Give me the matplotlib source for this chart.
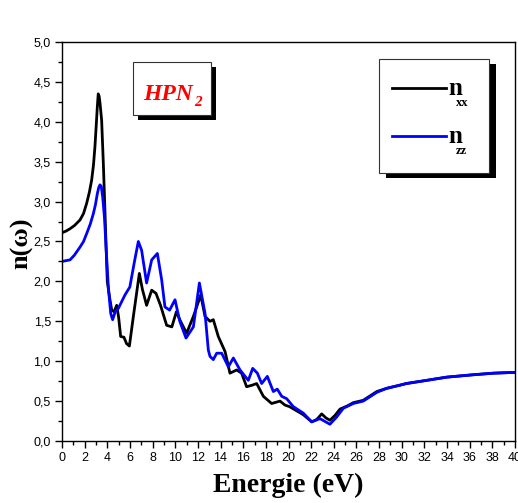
import matplotlib
matplotlib.use("Agg")
import matplotlib.pyplot as plt
from matplotlib.patches import Rectangle
from matplotlib.ticker import MultipleLocator, FuncFormatter

# ---- data ----
energy_xx = [0, 0.35, 0.71, 1.1, 1.59, 1.9, 2.18, 2.42, 2.62, 2.78, 2.91, 3.02, 3.12,
             3.2, 3.28, 3.36, 3.5, 3.65, 3.8, 3.9, 4.0, 4.2, 4.39,
             4.6, 4.83, 5.0, 5.18, 5.47, 5.7, 5.95, 6.3, 6.83, 7.1, 7.47, 7.92, 8.3,
             8.7, 9.24, 9.7, 10.1, 10.4, 11.0, 11.6, 12.25, 12.63, 13.07, 13.36, 13.8,
             14.4, 14.83, 15.42, 15.86, 16.3, 16.8, 17.19, 17.78, 18.51, 19.25, 19.69,
             20.1, 20.7, 21.3, 22.05, 22.5, 22.93, 23.3, 23.66, 24.1, 24.55, 25.2,
             25.72, 26.6, 27.8, 28.67, 29.85, 30.4, 32.2, 33.96, 36.3, 38.1, 40]
n_xx = [2.61, 2.63, 2.66, 2.70, 2.77, 2.85, 2.98, 3.12, 3.27, 3.46, 3.69, 3.95, 4.19,
        4.35, 4.32, 4.23, 4.02, 3.48, 2.85, 2.40, 2.00, 1.80,
        1.64, 1.62, 1.70, 1.55, 1.31, 1.30, 1.22, 1.19, 1.56, 2.10, 1.90, 1.70, 1.89,
        1.85, 1.70, 1.45, 1.43, 1.62, 1.52, 1.35, 1.56, 1.83, 1.56, 1.50, 1.52, 1.31,
        1.12, 0.85, 0.89, 0.85, 0.68, 0.70, 0.72, 0.56, 0.47, 0.50, 0.45, 0.43, 0.38,
        0.33, 0.24, 0.27, 0.34, 0.29, 0.26, 0.32, 0.40, 0.44, 0.48, 0.51, 0.62, 0.66,
        0.70, 0.72, 0.76, 0.80, 0.83, 0.85, 0.86]

energy_zz = [0, 0.35, 0.71, 1.1, 1.59, 1.9, 2.18, 2.5, 2.77, 2.95, 3.12, 3.25, 3.36,
             3.47, 3.59, 3.75, 3.89, 4.09, 4.3, 4.47,
             4.7, 4.97, 5.56, 5.99, 6.4, 6.74, 7.03, 7.47, 7.92, 8.42, 8.8, 9.09, 9.5,
             9.98, 10.4, 10.95, 11.6, 12.13, 12.63, 12.92, 13.07, 13.36, 13.66, 14.1,
             14.69, 15.13, 15.72, 16.45, 16.84, 17.25, 17.63, 18.13, 18.66, 19.01, 19.4,
             19.84, 20.43, 21.3, 22.05, 22.78, 23.66, 24.25, 24.84, 25.72, 26.6, 27.8,
             28.67, 29.85, 30.4, 32.2, 33.96, 36.3, 38.1, 40]
n_zz = [2.25, 2.26, 2.27, 2.33, 2.43, 2.50, 2.60, 2.72, 2.85, 2.96, 3.10, 3.18, 3.21,
        3.19, 3.06, 2.80, 2.43, 1.93, 1.60, 1.52,
        1.62, 1.66, 1.83, 1.93, 2.25, 2.50, 2.39, 1.98, 2.27, 2.35, 2.02, 1.68,
        1.64, 1.77, 1.50, 1.29, 1.43, 1.98, 1.60, 1.14, 1.06, 1.02, 1.10, 1.10, 0.93,
        1.04, 0.89, 0.76, 0.91, 0.85, 0.72, 0.81, 0.62, 0.65, 0.56, 0.53, 0.43, 0.35,
        0.24, 0.28, 0.21, 0.30, 0.41, 0.47, 0.50, 0.61, 0.66, 0.70, 0.72, 0.76, 0.80,
        0.83, 0.85, 0.86]

x_label = "Energie (eV)"
y_label = "n(ω)"
compound = "HPN"
compound_sub = "2"
series_names = [("n", "xx"), ("n", "zz")]
series_colors = ["black", "#0000ff"]

# ---- figure ----
W, H, DPI = 518, 503, 100
fig = plt.figure(figsize=(W / DPI, H / DPI), dpi=DPI)
ax0, ax1, ay_top, ay_bot = 62, 515, 42, 441
ax = fig.add_axes([ax0 / W, 1 - ay_bot / H, (ax1 - ax0) / W, (ay_bot - ay_top) / H])

ax.plot(energy_xx, n_xx, color=series_colors[0], lw=2.0, solid_joinstyle="round")
ax.plot(energy_zz, n_zz, color=series_colors[1], lw=2.0, solid_joinstyle="round")

ax.set_xlim(0, 40)
ax.set_ylim(0, 5)
ax.xaxis.set_major_locator(MultipleLocator(2))
ax.xaxis.set_minor_locator(MultipleLocator(1))
ax.yaxis.set_major_locator(MultipleLocator(0.5))
ax.yaxis.set_minor_locator(MultipleLocator(0.25))
ax.yaxis.set_major_formatter(FuncFormatter(lambda v, p: f"{v:.1f}".replace(".", ",")))
ax.xaxis.set_major_formatter(FuncFormatter(lambda v, p: f"{int(round(v))}"))
ax.tick_params(which="major", direction="out", length=5, width=1.0,
               labelsize=9, top=False, right=False, pad=3)
ax.tick_params(which="minor", direction="out", length=3, width=1.0, top=False, right=False)
for lab in ax.get_xticklabels() + ax.get_yticklabels():
    lab.set_fontfamily("Liberation Sans")
for s in ax.spines.values():
    s.set_linewidth(1.0)

fig.text((ax0 + ax1) / 2 / W, 1 - 485 / H, x_label, ha="center", va="center",
         fontsize=20, fontweight="bold", family="Liberation Serif")
fig.text(22 / W, 1 - 243 / H, y_label, ha="center", va="center", rotation=90,
         fontsize=19, fontweight="bold", family=["Liberation Serif", "DejaVu Serif"])

def px2ax(x, y):
    return (x - ax0) / (ax1 - ax0), (ay_bot - y) / (ay_bot - ay_top)

def shadow_box(x0, y0, x1, y1, dx, dy):
    fx0, fy1 = px2ax(x0, y0)
    fx1, fy0 = px2ax(x1, y1)
    sx0, sy1 = px2ax(x0 + dx, y0 + dy)
    sx1, sy0 = px2ax(x1 + dx, y1 + dy)
    ax.add_patch(Rectangle((sx0, sy0), sx1 - sx0, sy1 - sy0, transform=ax.transAxes,
                           facecolor="black", edgecolor="black", lw=0, zorder=5))
    ax.add_patch(Rectangle((fx0, fy0), fx1 - fx0, fy1 - fy0, transform=ax.transAxes,
                           facecolor="white", edgecolor="#333333", lw=0.8, zorder=6))

# compound label box
shadow_box(133, 62, 211, 115, 5, 5)
tx, ty = px2ax(143, 100)
ax.text(tx, ty, compound, transform=ax.transAxes, color="red", fontsize=17,
        fontweight="bold", fontstyle="italic", family="Liberation Serif",
        ha="left", va="baseline", zorder=7)
sx, sy = px2ax(194, 106)
ax.text(sx, sy, compound_sub, transform=ax.transAxes, color="red", fontsize=11,
        fontweight="bold", fontstyle="italic", family="Liberation Serif",
        ha="left", va="baseline", zorder=7)

# legend box
shadow_box(379, 59, 489, 173, 7, 5)
line_y = [88, 136]
for (main, sub), col, yy in zip(series_names, series_colors, line_y):
    lx0, ly = px2ax(392, yy)
    lx1, _ = px2ax(446, yy)
    ax.plot([lx0, lx1], [ly, ly], transform=ax.transAxes, color=col, lw=2.0,
            zorder=7, clip_on=False)
    nx, ny = px2ax(448, yy + 7)
    ax.text(nx, ny, main, transform=ax.transAxes, fontsize=18, fontweight="bold",
            family="Liberation Serif", ha="left", va="baseline", zorder=7)
    bx, by = px2ax(456, yy + 18)
    ax.text(bx, by, sub, transform=ax.transAxes, fontsize=9, fontweight="bold",
            family="Liberation Serif", ha="left", va="baseline", zorder=7)

fig.savefig("out.png", dpi=DPI)
